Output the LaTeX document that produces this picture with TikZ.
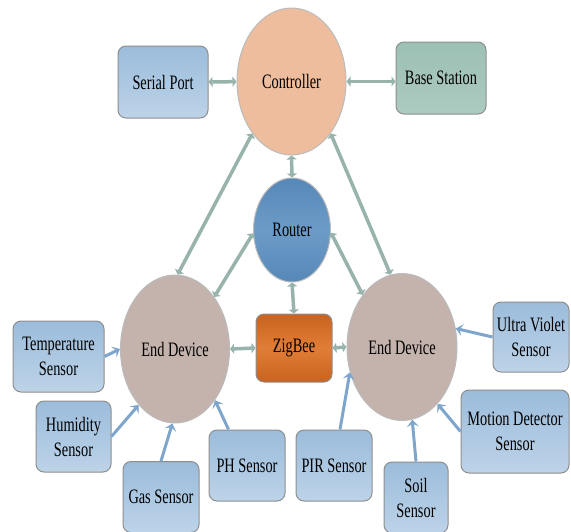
\documentclass[tikz,border=0pt]{standalone}
\usepackage{fontspec}
\setmainfont{Liberation Serif}[FakeStretch=0.7]
\usetikzlibrary{arrows.meta,shapes.geometric}
\definecolor{boxline}{HTML}{8E8E8E}
\definecolor{sensortop}{HTML}{9BBCDB}
\definecolor{sensorbot}{HTML}{BDD3E8}
\definecolor{ctrlfill}{HTML}{EDBD9E}
\definecolor{basefill}{HTML}{9DC0B5}
\definecolor{routertop}{HTML}{5688B8}
\definecolor{routermid}{HTML}{6D9BC7}
\definecolor{devfill}{HTML}{C4B3AC}
\definecolor{zigtop}{HTML}{C9631F}
\definecolor{zigmid}{HTML}{E07D37}
\definecolor{linkcol}{HTML}{98B3AC}
\definecolor{sensorlink}{HTML}{7EA5CB}
\begin{document}
\begin{tikzpicture}[x=1pt,y=-1pt,
  font=\fontsize{20.5}{25}\selectfont,
  sensor/.style={draw=boxline, line width=1pt, rounded corners=8pt,
    top color=sensortop, bottom color=sensorbot, align=center, inner sep=0pt},
  oval/.style={ellipse, draw=boxline!60, line width=1pt, inner sep=0pt},
  link/.style={draw=linkcol, line width=3.5pt,
    {Triangle[width=10pt,length=4pt]}-{Triangle[width=10pt,length=4pt]}},
  feed/.style={draw=sensorlink, line width=3pt,
    -{Stealth[width=12pt,length=7pt,inset=3pt]}}]
\useasboundingbox (0,0) rectangle (571,531);
	    \node[oval, fill=ctrlfill, minimum width=109pt, minimum height=147pt] (ctrl) at (291.5, 81.5) {Controller};
	    \node[sensor, minimum width=90pt, minimum height=72pt] (serial) at (163, 82) {Serial Port};
	    \node[sensor, top color=basefill, bottom color=basefill!85!white, minimum width=90pt, minimum height=72pt] (base) at (441, 78) {Base Station};
	    \node[oval, top color=routertop, bottom color=routertop, middle color=routermid, minimum width=77pt, minimum height=104pt] (router) at (292, 230) {Router};
	    \node[sensor, top color=zigtop, bottom color=zigtop, middle color=zigmid, minimum width=76pt, minimum height=68pt] (zig) at (294, 348) {ZigBee};
	    \node[oval, fill=devfill, minimum width=109pt, minimum height=148pt] (ledev) at (175, 349) {End Device};
	    \node[oval, fill=devfill, minimum width=110pt, minimum height=147pt] (redev) at (402, 347) {End Device};
	    \node[sensor, minimum width=91pt, minimum height=71pt] (temp) at (58.5, 356.5) {Temperature\\Sensor};
	    \node[sensor, minimum width=75pt, minimum height=71pt] (hum) at (73.5, 436.5) {Humidity\\Sensor};
	    \node[sensor, minimum width=76pt, minimum height=71pt] (gas) at (161, 497) {Gas Sensor};
	    \node[sensor, minimum width=76pt, minimum height=71pt] (ph) at (247, 465.5) {PH Sensor};
	    \node[sensor, minimum width=76pt, minimum height=71pt] (pir) at (334, 465.5) {PIR Sensor};
	    \node[sensor, minimum width=64pt, minimum height=71pt] (soil) at (416, 497.5) {Soil\\Sensor};
	    \node[sensor, minimum width=108pt, minimum height=83pt] (motion) at (515, 431.5) {Motion Detector\\Sensor};
	    \node[sensor, minimum width=76pt, minimum height=70pt] (uv) at (531, 337) {Ultra Violet\\Sensor};
	    \draw[link] (serial) -- (ctrl);
	    \draw[link] (ctrl.east) -- (ctrl.east -| base.west);
	    \draw[link] (ctrl.south) -- (router.north);
	    \draw[link] (ctrl.-127) -- (ledev.88);
	    \draw[link] (ctrl.-53) -- (redev.99);
	    \draw[link] (router.185) -- (ledev.53);
	    \draw[link] (router.-4) -- (redev.127);
	    \draw[link] (router.south) -- (zig.north);
	    \draw[link] (zig.west) -- (ledev.east);
	    \draw[link] (zig.east) -- (redev.west);
	    \draw[feed] (temp.east) -- (ledev.180);
	    \draw[feed] (hum.east) -- (ledev.-123);
	    \draw[feed] (gas.north) -- (ledev.-92);
	    \draw[feed] ([xshift=20pt]ph.north west) -- (ledev.-52);
	    \draw[feed] ([xshift=6pt]pir.north) -- (redev.-154);
	    \draw[feed] (soil.north) -- (redev.-82);
	    \draw[feed] (motion.west) -- (redev.-58);
	    \draw[feed] (uv.west) -- (redev.19);
\end{tikzpicture}
\end{document}
